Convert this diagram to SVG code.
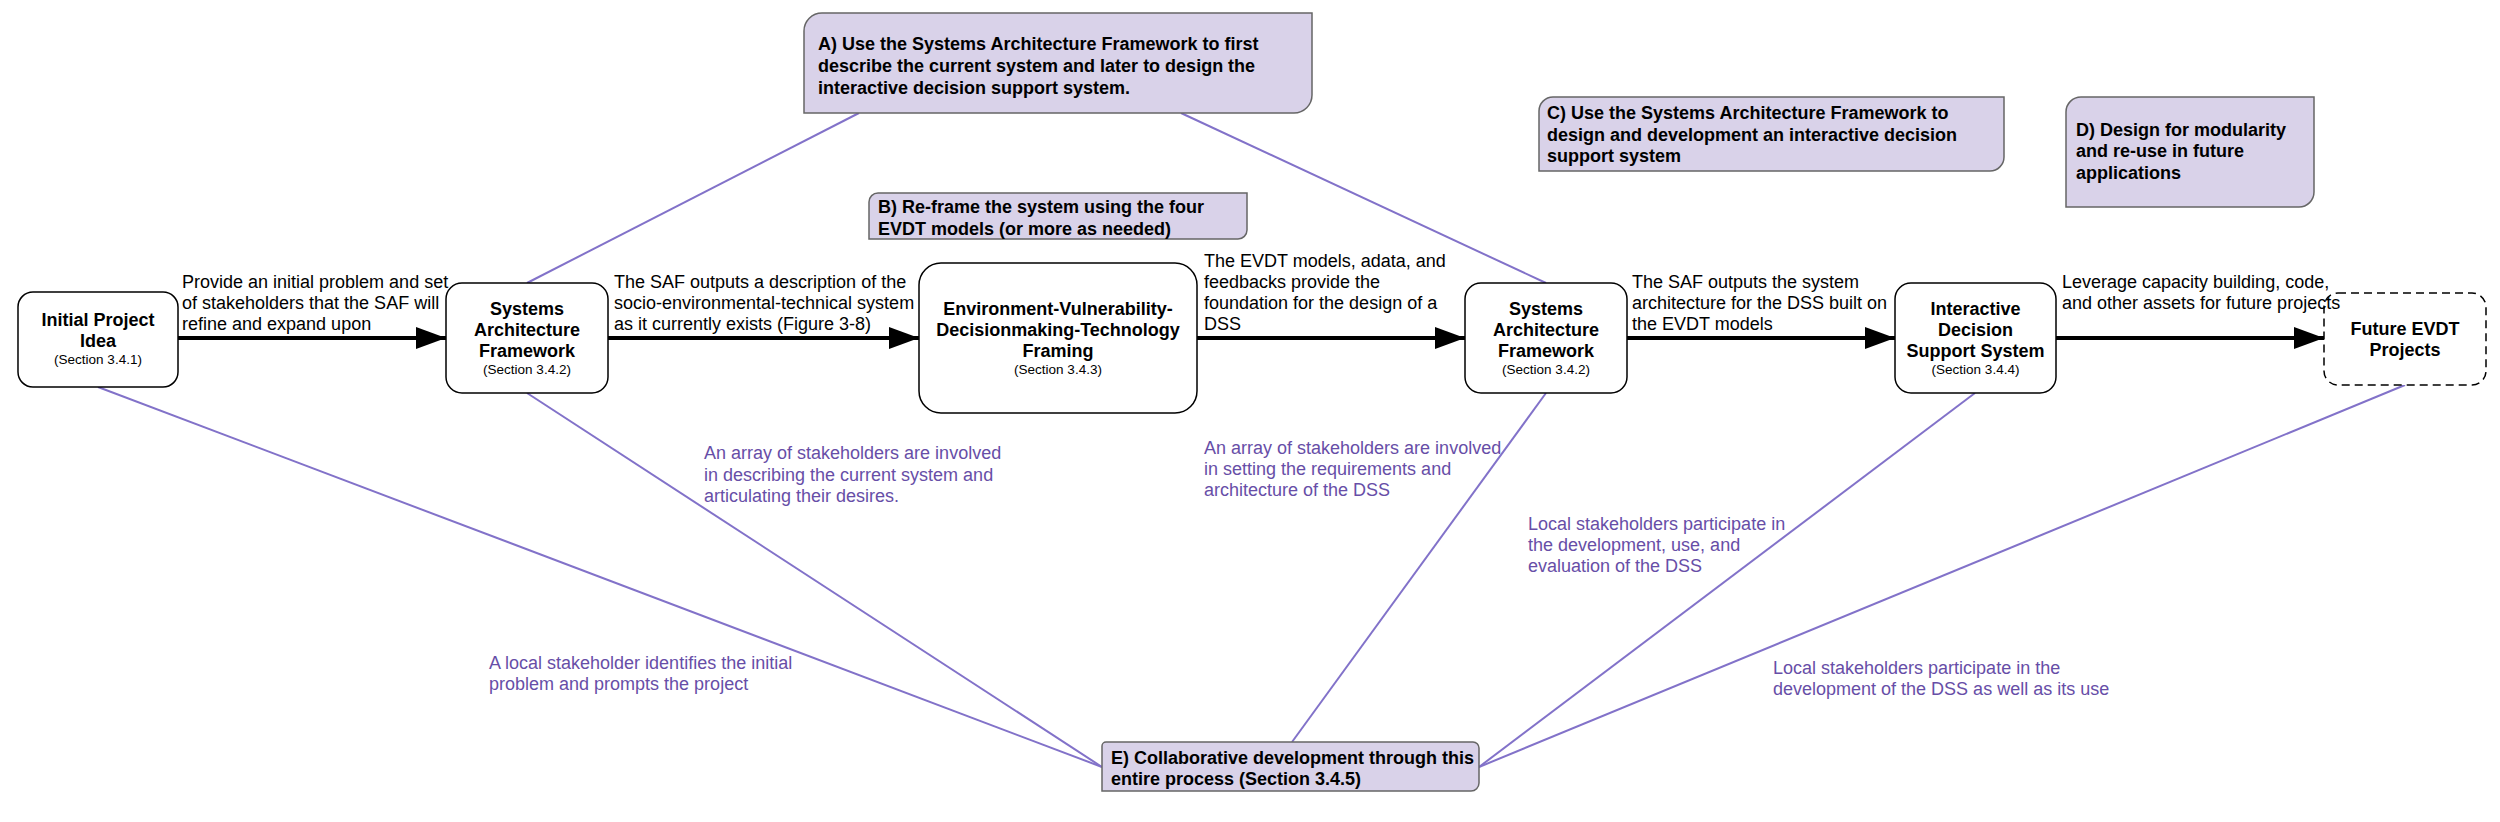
<svg xmlns="http://www.w3.org/2000/svg" width="2500" height="822" viewBox="0 0 2500 822">
<style>
text{font-family:"Liberation Sans",Arial,sans-serif;font-size:18px;fill:#000}
.b{font-weight:bold}
.c{text-anchor:middle}
.s{font-size:13.5px}
.p{fill:#674EA7}
.node{fill:#fff;stroke:#000;stroke-width:1.5}
.dash{stroke-dasharray:8 5}
.call{fill:#D9D2E9;stroke:#666;stroke-width:1.5}
.flow{stroke:#000;stroke-width:4;fill:none;marker-end:url(#blk)}
.link{stroke:#8272C9;stroke-width:2;fill:none}
</style>
<defs>
<marker id="blk" markerUnits="userSpaceOnUse" markerWidth="32" markerHeight="24" refX="30" refY="11" orient="auto" viewBox="0 0 32 24">
<path d="M0,0 L30,11 L0,22 Z" fill="#000"/>
</marker>
</defs>
<rect width="2500" height="822" fill="#fff"/>
<g id="connectors">
<line class="link" x1="859" y1="113" x2="527" y2="283"/>
<line class="link" x1="1181" y1="113" x2="1546" y2="283"/>
<line class="link" x1="98" y1="387" x2="1102" y2="767"/>
<line class="link" x1="527" y1="393" x2="1102" y2="767"/>
<line class="link" x1="1546" y1="393" x2="1292" y2="742"/>
<line class="link" x1="1975" y1="393" x2="1479" y2="767"/>
<line class="link" x1="2405" y1="385" x2="1479" y2="767"/>
<line class="flow" x1="178" y1="338" x2="446" y2="338"/>
<line class="flow" x1="608" y1="338" x2="919" y2="338"/>
<line class="flow" x1="1197" y1="338" x2="1465" y2="338"/>
<line class="flow" x1="1627" y1="338" x2="1895" y2="338"/>
<line class="flow" x1="2056" y1="338" x2="2324" y2="338"/>
</g>
<g id="initial">
<rect class="node" x="18" y="292" width="160" height="95" rx="15"/>
<text class="b c" x="98" y="326">Initial Project</text>
<text class="b c" x="98" y="347">Idea</text>
<text class="s c" x="98" y="364">(Section 3.4.1)</text>
</g>
<g id="saf1">
<rect class="node" x="446" y="283" width="162" height="110" rx="16"/>
<text class="b c" x="527" y="315">Systems</text>
<text class="b c" x="527" y="336">Architecture</text>
<text class="b c" x="527" y="357">Framework</text>
<text class="s c" x="527" y="374">(Section 3.4.2)</text>
</g>
<g id="evdt">
<rect class="node" x="919" y="263" width="278" height="150" rx="22"/>
<text class="b c" x="1058" y="315">Environment-Vulnerability-</text>
<text class="b c" x="1058" y="336">Decisionmaking-Technology</text>
<text class="b c" x="1058" y="357">Framing</text>
<text class="s c" x="1058" y="374">(Section 3.4.3)</text>
</g>
<g id="saf2">
<rect class="node" x="1465" y="283" width="162" height="110" rx="16"/>
<text class="b c" x="1546" y="315">Systems</text>
<text class="b c" x="1546" y="336">Architecture</text>
<text class="b c" x="1546" y="357">Framework</text>
<text class="s c" x="1546" y="374">(Section 3.4.2)</text>
</g>
<g id="idss">
<rect class="node" x="1895" y="283" width="161" height="110" rx="16"/>
<text class="b c" x="1975.5" y="315">Interactive</text>
<text class="b c" x="1975.5" y="336">Decision</text>
<text class="b c" x="1975.5" y="357">Support System</text>
<text class="s c" x="1975.5" y="374">(Section 3.4.4)</text>
</g>
<g id="future">
<rect class="node dash" x="2324" y="293" width="162" height="92" rx="14"/>
<text class="b c" x="2405" y="335">Future EVDT</text>
<text class="b c" x="2405" y="356">Projects</text>
</g>
<g id="edge-labels">
<text x="182" y="288">Provide an initial problem and set</text>
<text x="182" y="309">of stakeholders that the SAF will</text>
<text x="182" y="330">refine and expand upon</text>
<text x="614" y="288">The SAF outputs a description of the</text>
<text x="614" y="309">socio-environmental-technical system</text>
<text x="614" y="330">as it currently exists (Figure 3-8)</text>
<text x="1204" y="267">The EVDT models, adata, and</text>
<text x="1204" y="288">feedbacks provide the</text>
<text x="1204" y="309">foundation for the design of a</text>
<text x="1204" y="330">DSS</text>
<text x="1632" y="288">The SAF outputs the system</text>
<text x="1632" y="309">architecture for the DSS built on</text>
<text x="1632" y="330">the EVDT models</text>
<text x="2062" y="288">Leverage capacity building, code,</text>
<text x="2062" y="309">and other assets for future projects</text>
<text class="p" x="704" y="459">An array of stakeholders are involved</text>
<text class="p" x="704" y="480.5">in describing the current system and</text>
<text class="p" x="704" y="502">articulating their desires.</text>
<text class="p" x="489" y="669">A local stakeholder identifies the initial</text>
<text class="p" x="489" y="690">problem and prompts the project</text>
<text class="p" x="1204" y="454">An array of stakeholders are involved</text>
<text class="p" x="1204" y="475">in setting the requirements and</text>
<text class="p" x="1204" y="496">architecture of the DSS</text>
<text class="p" x="1528" y="530">Local stakeholders participate in</text>
<text class="p" x="1528" y="551">the development, use, and</text>
<text class="p" x="1528" y="572">evaluation of the DSS</text>
<text class="p" x="1773" y="674">Local stakeholders participate in the</text>
<text class="p" x="1773" y="695">development of the DSS as well as its use</text>
</g>
<g id="callout-a">
<path class="call" d="M822,13 H1312 V95 A18,18 0 0 1 1294,113 H804 V31 A18,18 0 0 1 822,13 Z"/>
<text class="b" x="818" y="50">A) Use the Systems Architecture Framework to first</text>
<text class="b" x="818" y="72">describe the current system and later to design the</text>
<text class="b" x="818" y="94">interactive decision support system.</text>
</g>
<g id="callout-b">
<path class="call" d="M878,193 H1247 V230 A9,9 0 0 1 1238,239 H869 V202 A9,9 0 0 1 878,193 Z"/>
<text class="b" x="878" y="213">B) Re-frame the system using the four</text>
<text class="b" x="878" y="235">EVDT models (or more as needed)</text>
</g>
<g id="callout-c">
<path class="call" d="M1553,97 H2004 V157 A14,14 0 0 1 1990,171 H1539 V111 A14,14 0 0 1 1553,97 Z"/>
<text class="b" x="1547" y="119">C) Use the Systems Architecture Framework to</text>
<text class="b" x="1547" y="140.5">design and development an interactive decision</text>
<text class="b" x="1547" y="162">support system</text>
</g>
<g id="callout-d">
<path class="call" d="M2081,97 H2314 V192 A15,15 0 0 1 2299,207 H2066 V112 A15,15 0 0 1 2081,97 Z"/>
<text class="b" x="2076" y="136">D) Design for modularity</text>
<text class="b" x="2076" y="157">and re-use in future</text>
<text class="b" x="2076" y="179">applications</text>
</g>
<g id="callout-e">
<path class="call" d="M1106,742 H1473 A6,6 0 0 1 1479,748 V783 A8,8 0 0 1 1471,791 H1102 V746 A4,4 0 0 1 1106,742 Z"/>
<text class="b" x="1111" y="764">E) Collaborative development through this</text>
<text class="b" x="1111" y="785">entire process (Section 3.4.5)</text>
</g>
</svg>
